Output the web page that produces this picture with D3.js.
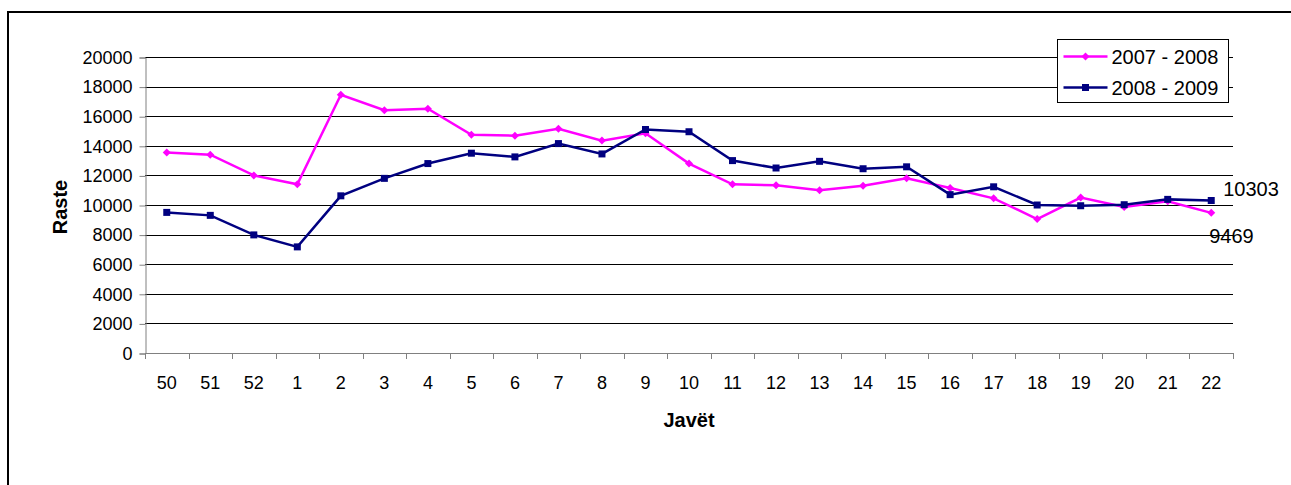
<!DOCTYPE html>
<html>
<head>
<meta charset="utf-8">
<script src="https://cdn.jsdelivr.net/npm/d3@7"></script>
<style>
  body { margin: 0; background: #fff; }
  svg { display: block; font-family: "Liberation Sans", Arial, sans-serif; }
</style>
</head>
<body>
<div id="chart"></div>
<script>
const weeks = ['50', '51', '52', '1', '2', '3', '4', '5', '6', '7', '8', '9', '10', '11', '12', '13', '14', '15', '16', '17', '18', '19', '20', '21', '22'];
const cases0708 = [13550, 13400, 12000, 11400, 17450, 16400, 16500, 14750, 14680, 15150, 14350, 14850, 12800, 11400, 11330, 11000, 11300, 11800, 11150, 10450, 9050, 10500, 9870, 10250, 9469];
const cases0809 = [9500, 9300, 7980, 7170, 10620, 11800, 12800, 13500, 13250, 14150, 13450, 15100, 14950, 13000, 12500, 12950, 12450, 12580, 10700, 11230, 10000, 9950, 10020, 10380, 10303];
const yTicks = [0, 2000, 4000, 6000, 8000, 10000, 12000, 14000, 16000, 18000, 20000];
const seriesNames = ['2007 - 2008', '2008 - 2009'];

const width = 1291, height = 485;
const plot = {left: 145, right: 1233, top: 57, bottom: 353};

var svg = d3.select('#chart').append('svg')
	.attr('width', width)
	.attr('height', height)

// frame
svg.append('path')
	.attr('d', 'M8,' + (height + 5) + ' L8,12 L' + (width + 5) + ',12')
	.attr('fill', 'none')
	.attr('stroke', '#000')
	.attr('stroke-width', 2)

var x = d3.scaleBand().domain(weeks).range([plot.left, plot.right]);
var y = d3.scaleLinear().domain([0, 20000]).range([plot.bottom, plot.top]);

// gridlines
svg.append('g')
	.selectAll('line')
	.data(yTicks.filter(d => d > 0))
	.join('line')
	.attr('x1', plot.left).attr('x2', plot.right)
	.attr('y1', d => Math.round(y(d)) + 0.5).attr('y2', d => Math.round(y(d)) + 0.5)
	.attr('stroke', '#000')
	.attr('stroke-width', 1)

// y axis
var yAxis = svg.append('g')
	.attr('transform', 'translate(' + (plot.left + 0.5) + ',0.5)')
	.call(d3.axisLeft(y).tickValues(yTicks).tickSize(6).tickPadding(7).tickFormat(d3.format('d')))
yAxis.selectAll('text').style('font-size', '18px').attr('fill', '#000')
yAxis.select('.domain').attr('stroke', '#808080')
yAxis.selectAll('line').attr('stroke', '#808080')

// x axis
var xAxis = svg.append('g')
	.attr('transform', 'translate(0,' + (Math.round(plot.bottom) + 0.5) + ')')
	.call(d3.axisBottom(x).tickSize(0).tickPadding(23))
xAxis.select('.domain').attr('stroke', '#808080').attr('d', 'M' + plot.left + ',0H' + plot.right)
xAxis.selectAll('text').style('font-size', '18px').attr('fill', '#000')
svg.append('g')
	.selectAll('line')
	.data(weeks.concat(['end']))
	.join('line')
	.attr('x1', (d, i) => Math.round(plot.left + i * x.bandwidth()) + 0.5)
	.attr('x2', (d, i) => Math.round(plot.left + i * x.bandwidth()) + 0.5)
	.attr('y1', plot.bottom).attr('y2', plot.bottom + 6)
	.attr('stroke', '#808080')

// axis titles
svg.append('text')
	.attr('x', 689).attr('y', 427)
	.attr('text-anchor', 'middle')
	.style('font-size', '20px').style('font-weight', 'bold')
	.text('Javët')
svg.append('text')
	.attr('transform', 'translate(67,207) rotate(-90)')
	.attr('text-anchor', 'middle')
	.style('font-size', '20px').style('font-weight', 'bold')
	.text('Raste')

var cx = d => x(d) + x.bandwidth() / 2;
var line = d3.line().x((d, i) => cx(weeks[i])).y(d => y(d));

function draw_series(values, color, shape) {
	svg.append('path')
		.datum(values)
		.attr('d', line)
		.attr('fill', 'none')
		.attr('stroke', color)
		.attr('stroke-width', 2.5)
	svg.append('g')
		.selectAll('path')
		.data(values)
		.join('path')
		.attr('transform', (d, i) => 'translate(' + cx(weeks[i]) + ',' + y(d) + ')')
		.attr('d', shape)
		.attr('fill', color)
}
var diamond = 'M0,-4L4,0L0,4L-4,0Z';
var square = 'M-3.5,-3.5H3.5V3.5H-3.5Z';
draw_series(cases0708, '#FF00FF', diamond);
draw_series(cases0809, '#000080', square);

// end labels
var last = weeks.length - 1;
svg.append('text')
	.attr('x', cx(weeks[last]) + 12).attr('y', y(cases0809[last]) - 5)
	.style('font-size', '20px')
	.text(cases0809[last])
svg.append('text')
	.attr('x', cx(weeks[last]) - 2).attr('y', y(cases0708[last]) + 30)
	.style('font-size', '20px')
	.text(cases0708[last])

// legend
var legend = svg.append('g').attr('transform', 'translate(1057.5,39.5)')
legend.append('rect')
	.attr('width', 171).attr('height', 63)
	.attr('fill', '#fff').attr('stroke', '#000')
var colors = ['#FF00FF', '#000080'];
var shapes = [diamond, square];
seriesNames.forEach(function(name, i) {
	var yy = 17 + i * 31;
	legend.append('line')
		.attr('x1', 6).attr('x2', 50).attr('y1', yy).attr('y2', yy)
		.attr('stroke', colors[i]).attr('stroke-width', 2.5)
	legend.append('path')
		.attr('transform', 'translate(28,' + yy + ')')
		.attr('d', shapes[i]).attr('fill', colors[i])
	legend.append('text')
		.attr('x', 54).attr('y', yy + 7)
		.style('font-size', '20px')
		.text(name)
});
</script>
</body>
</html>
